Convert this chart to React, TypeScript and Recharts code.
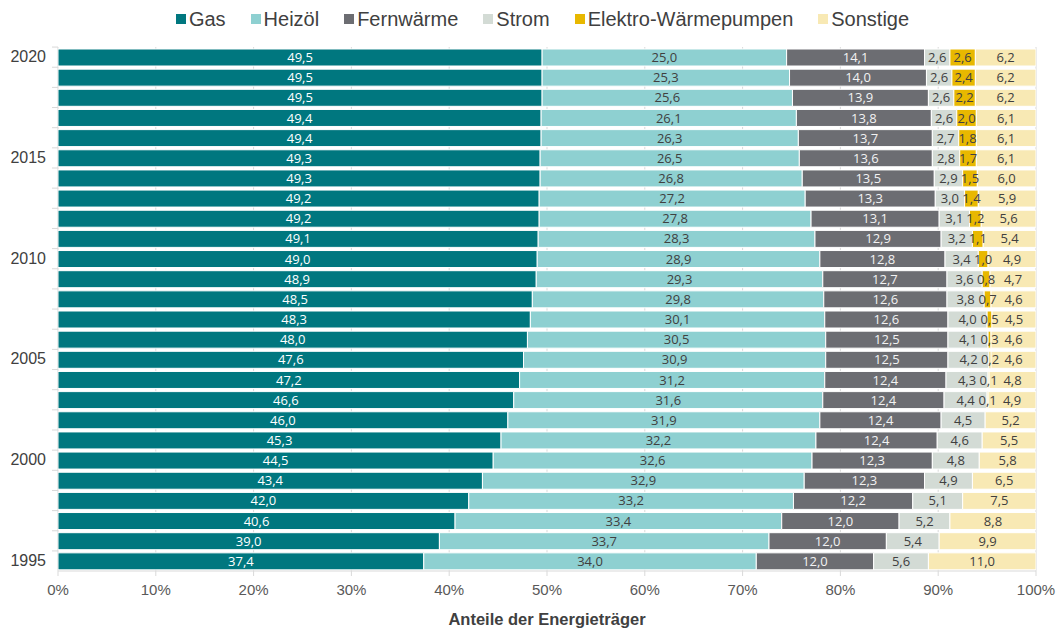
import React from "react";
import {
  BarChart,
  Bar,
  XAxis,
  YAxis,
  CartesianGrid,
  Legend,
  LabelList,
} from "recharts";

// Rows from top (2020) to bottom (1995), shares in percent
const YEARS = [
  "2020", "2019", "2018", "2017", "2016", "2015", "2014", "2013", "2012",
  "2011", "2010", "2009", "2008", "2007", "2006", "2005", "2004", "2003",
  "2002", "2001", "2000", "1999", "1998", "1997", "1996", "1995",
];
const GAS = [
  49.5, 49.5, 49.5, 49.4, 49.4, 49.3, 49.3, 49.2, 49.2, 49.1, 49.0, 48.9,
  48.5, 48.3, 48.0, 47.6, 47.2, 46.6, 46.0, 45.3, 44.5, 43.4, 42.0, 40.6,
  39.0, 37.4,
];
const HEIZOEL = [
  25.0, 25.3, 25.6, 26.1, 26.3, 26.5, 26.8, 27.2, 27.8, 28.3, 28.9, 29.3,
  29.8, 30.1, 30.5, 30.9, 31.2, 31.6, 31.9, 32.2, 32.6, 32.9, 33.2, 33.4,
  33.7, 34.0,
];
const FERNWAERME = [
  14.1, 14.0, 13.9, 13.8, 13.7, 13.6, 13.5, 13.3, 13.1, 12.9, 12.8, 12.7,
  12.6, 12.6, 12.5, 12.5, 12.4, 12.4, 12.4, 12.4, 12.3, 12.3, 12.2, 12.0,
  12.0, 12.0,
];
const STROM = [
  2.6, 2.6, 2.6, 2.6, 2.7, 2.8, 2.9, 3.0, 3.1, 3.2, 3.4, 3.6, 3.8, 4.0, 4.1,
  4.2, 4.3, 4.4, 4.5, 4.6, 4.8, 4.9, 5.1, 5.2, 5.4, 5.6,
];
const WAERMEPUMPEN = [
  2.6, 2.4, 2.2, 2.0, 1.8, 1.7, 1.5, 1.4, 1.2, 1.1, 1.0, 0.8, 0.7, 0.5, 0.3,
  0.2, 0.1, 0.1, 0, 0, 0, 0, 0, 0, 0, 0,
];
const SONSTIGE = [
  6.2, 6.2, 6.2, 6.1, 6.1, 6.1, 6.0, 5.9, 5.6, 5.4, 4.9, 4.7, 4.6, 4.5, 4.6,
  4.6, 4.8, 4.9, 5.2, 5.5, 5.8, 6.5, 7.5, 8.8, 9.9, 11.0,
];
const LABELED_YEARS = ["2020", "2015", "2010", "2005", "2000", "1995"];
const X_TICKS = [0, 10, 20, 30, 40, 50, 60, 70, 80, 90, 100];

const SERIES = [
  { key: "gas", name: "Gas", color: "#00777F", text: "#FFFFFF" },
  { key: "heizoel", name: "Heizöl", color: "#8ED0D1", text: "#404040" },
  { key: "fernwaerme", name: "Fernwärme", color: "#6C6D72", text: "#F2F2F2" },
  { key: "strom", name: "Strom", color: "#D3DBD5", text: "#404040" },
  { key: "waermepumpen", name: "Elektro-Wärmepumpen", color: "#E8B800", text: "#404040" },
  { key: "sonstige", name: "Sonstige", color: "#F8E9B4", text: "#404040" },
];

const data = YEARS.map((year, i) => ({
  year,
  gas: GAS[i],
  heizoel: HEIZOEL[i],
  fernwaerme: FERNWAERME[i],
  strom: STROM[i],
  waermepumpen: WAERMEPUMPEN[i],
  sonstige: SONSTIGE[i],
}));

const AXIS_FONT = "'Liberation Sans', Arial, sans-serif";
const LABEL_FONT = "'Open Sans', 'Noto Sans', sans-serif";

const formatValue = (v: any) =>
  typeof v === "number" && v > 0 ? v.toFixed(1).replace(".", ",") : "";

function YearTick(props: any) {
  const { x, y, payload } = props;
  const show = LABELED_YEARS.includes(payload.value);
  return (
    <g>
      <line x1={x + 6} x2={x + 12} y1={y - 10} y2={y - 10} stroke="#D9D9D9" />
      {show && (
        <text
          x={x}
          y={y}
          dy={5}
          textAnchor="end"
          fontSize={16}
          fontFamily={AXIS_FONT}
          fill="#404040"
        >
          {payload.value}
        </text>
      )}
    </g>
  );
}

function TopLegend() {
  return (
    <div
      style={{
        display: "flex",
        justifyContent: "center",
        alignItems: "center",
        height: 38,
        fontFamily: AXIS_FONT,
        fontSize: 20,
        color: "#404040",
        paddingLeft: 26,
      }}
    >
      {SERIES.map((s, i) => (
        <span
          key={s.key}
          style={{
            display: "flex",
            alignItems: "center",
            marginRight: i === SERIES.length - 1 ? 0 : 25,
          }}
        >
          <span
            style={{
              width: 10,
              height: 10,
              background: s.color,
              display: "inline-block",
              marginRight: 3,
            }}
          />
          {s.name}
        </span>
      ))}
    </div>
  );
}

export default function App() {
  return (
    <div style={{ position: "absolute", left: 0, top: 0, background: "#fff" }}>
      <BarChart
        width={1059}
        height={628}
        data={data}
        layout="vertical"
        margin={{ top: 9, right: 23, bottom: 0, left: 0 }}
        barSize={17}
      >
        <CartesianGrid horizontal={false} stroke="#D9D9D9" />
        <XAxis
          type="number"
          domain={[0, 100]}
          ticks={X_TICKS}
          allowDataOverflow
          tickFormatter={(v) => `${v}%`}
          axisLine={{ stroke: "#D9D9D9" }}
          tickLine={{ stroke: "#D9D9D9" }}
          tickSize={5}
          tickMargin={8}
          height={57}
          tick={{ fontSize: 15, fontFamily: AXIS_FONT, fill: "#595959" }}
          label={{
            value: "Anteile der Energieträger",
            position: "insideBottom",
            offset: 3,
            style: {
              fontSize: 16.5,
              fontWeight: "bold",
              fontFamily: AXIS_FONT,
              fill: "#404040",
            },
          }}
        />
        <YAxis
          type="category"
          dataKey="year"
          width={58}
          interval={0}
          axisLine={false}
          tickLine={false}
          tickSize={0}
          tickMargin={12}
          tick={<YearTick />}
        />
        <Legend
          verticalAlign="top"
          align="center"
          wrapperStyle={{ top: 0, left: 0, width: 1059 }}
          content={() => <TopLegend />}
        />
        {SERIES.map((s) => (
          <Bar
            key={s.key}
            dataKey={s.key}
            name={s.name}
            stackId="a"
            fill={s.color}
            stroke="#FFFFFF"
            strokeWidth={1}
            isAnimationActive={false}
          >
            <LabelList
              dataKey={s.key}
              position="center"
              formatter={formatValue}
              style={{
                fontSize: 13,
                fontFamily: LABEL_FONT,
                fill: s.text,
              }}
            />
          </Bar>
        ))}
      </BarChart>
    </div>
  );
}
